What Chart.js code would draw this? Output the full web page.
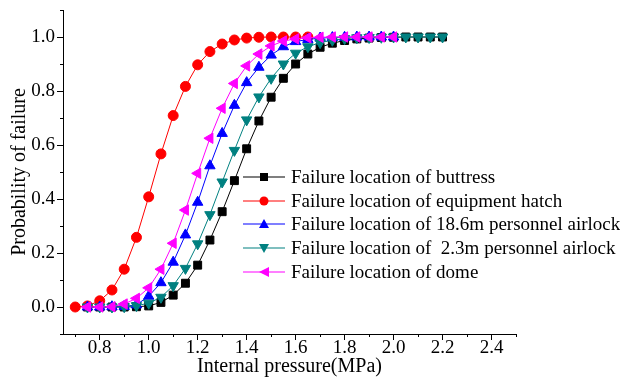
<!DOCTYPE html>
<html>
<head>
<meta charset="utf-8">
<script src="https://cdn.jsdelivr.net/npm/chart.js@4.4.1/dist/chart.umd.min.js"></script>
<style>
  body { margin: 0; background: #fff; }
  #wrap { position: relative; width: 620px; height: 381px; }
  #legend {
    position: absolute;
    left: 243px;
    top: 165px;
    font: 19px "Liberation Serif", serif;
    color: #000;
  }
  .row { display: flex; align-items: center; height: 23.75px; white-space: pre; }
  .row svg { margin-right: 6px; }
</style>
</head>
<body>
<div id="wrap">
  <canvas id="chart" width="620" height="381"></canvas>
  <div id="legend"></div>
</div>
<script>
let pressure = [0.70, 0.75, 0.80, 0.85, 0.90, 0.95, 1.00, 1.05, 1.10, 1.15, 1.20,
  1.25, 1.30, 1.35, 1.40, 1.45, 1.50, 1.55, 1.60, 1.65, 1.70, 1.75, 1.80, 1.85,
  1.90, 1.95, 2.00, 2.05, 2.10, 2.15, 2.20];

let buttress = [null, 0.000, 0.000, 0.000, 0.000, 0.001, 0.004, 0.017, 0.044, 0.088, 0.155,
  0.248, 0.353, 0.468, 0.586, 0.689, 0.777, 0.847, 0.900, 0.937, 0.962, 0.977, 0.987, 0.993,
  0.996, 0.998, 0.999, 1.000, 1.000, 1.000, 1.000];

let hatch = [0.000, 0.004, 0.023, 0.063, 0.140, 0.258, 0.408, 0.567, 0.709, 0.817, 0.897,
  0.946, 0.974, 0.989, 0.996, 0.999, 1.000, 1.000, 1.000, 1.000, null, null, null, null,
  null, null, null, null, null, null, null];

let airlock186 = [null, 0.000, 0.000, 0.001, 0.002, 0.008, 0.040, 0.090, 0.166, 0.267, 0.388,
  0.523, 0.643, 0.747, 0.831, 0.888, 0.933, 0.964, 0.983, 0.991, 0.996, 0.998, 0.999, 1.000,
  1.000, 1.000, 1.000, null, null, null, null];

let airlock23 = [null, 0.000, 0.000, 0.000, 0.001, 0.005, 0.014, 0.036, 0.079, 0.143, 0.234,
  0.342, 0.463, 0.580, 0.693, 0.778, 0.847, 0.900, 0.940, 0.964, 0.979, 0.988, 0.994, 0.997,
  0.998, 0.999, 1.000, 1.000, 1.000, 1.000, 1.000];

let dome = [null, 0.000, 0.000, 0.001, 0.011, 0.032, 0.071, 0.140, 0.236, 0.359, 0.495,
  0.625, 0.736, 0.828, 0.893, 0.937, 0.967, 0.985, 0.993, 0.997, 0.999, 1.000, 1.000, 1.000,
  1.000, 1.000, 1.000, null, null, null, null];

let seriesNames = [
  "Failure location of buttress",
  "Failure location of equipment hatch",
  "Failure location of 18.6m personnel airlock",
  "Failure location of  2.3m personnel airlock",
  "Failure location of dome",
];

let xMajor = [0.8, 1.0, 1.2, 1.4, 1.6, 1.8, 2.0, 2.2, 2.4];
let xMinor = [0.7, 0.9, 1.1, 1.3, 1.5, 1.7, 1.9, 2.1, 2.3, 2.5];
let yMajor = [0.0, 0.2, 0.4, 0.6, 0.8, 1.0];
let yMinor = [-0.1, 0.1, 0.3, 0.5, 0.7, 0.9, 1.1];

let fontName = "'Liberation Serif', 'Times New Roman', serif";

// colour, marker, rotation, radius ; order so that dome is drawn last (on top)
let looks = [
  { color: "#000000", style: "rect", rot: 0, r: 5.6, order: 4 },
  { color: "#ff0000", style: "circle", rot: 0, r: 5, order: 3 },
  { color: "#0000ff", style: "triangle", rot: 0, r: 6, order: 2 },
  { color: "#008080", style: "triangle", rot: 180, r: 6, order: 1 },
  { color: "#ff00ff", style: "triangle", rot: -90, r: 6, order: 0 },
];

function toPoints(values) {
  return pressure
    .map((x, i) => ({ x: x, y: values[i] }))
    .filter((p) => p.y !== null);
}

let allSeries = [buttress, hatch, airlock186, airlock23, dome];

let datasets = allSeries.map((values, i) => ({
  label: seriesNames[i],
  data: toPoints(values),
  borderColor: looks[i].color,
  backgroundColor: looks[i].color,
  borderWidth: 1,
  pointStyle: looks[i].style,
  pointRotation: looks[i].rot,
  pointRadius: looks[i].r,
  pointBorderWidth: 1,
  pointBorderColor: looks[i].color,
  pointBackgroundColor: looks[i].color,
  tension: 0,
  order: looks[i].order,
}));

// short minor tick marks drawn through the scales
let minorTicks = {
  id: "minorTicks",
  afterDraw(chart) {
    let ctx = chart.ctx;
    let xs = chart.scales.x;
    let ys = chart.scales.y;
    ctx.save();
    ctx.strokeStyle = "#000";
    ctx.lineWidth = 1;
    ctx.beginPath();
    xMinor.forEach((v) => {
      let px = Math.round(xs.getPixelForValue(v)) + 0.5;
      ctx.moveTo(px, xs.top);
      ctx.lineTo(px, xs.top + 3);
    });
    yMinor.forEach((v) => {
      let py = Math.round(ys.getPixelForValue(v)) + 0.5;
      ctx.moveTo(ys.right, py);
      ctx.lineTo(ys.right - 3, py);
    });
    ctx.stroke();
    ctx.restore();
  },
};

const chart = document.getElementById("chart");
new Chart(chart, {
  type: "line",
  data: { datasets: datasets },
  options: {
    responsive: false,
    animation: false,
    devicePixelRatio: 1,
    layout: { padding: { top: 10, right: 104, left: 0, bottom: 0 } },
    plugins: {
      legend: { display: false },
      tooltip: { enabled: false },
    },
    scales: {
      x: {
        type: "linear",
        min: 0.65,
        max: 2.5,
        afterBuildTicks: (s) => {
          s.ticks = xMajor.map((v) => ({ value: v }));
        },
        afterFit: (s) => {
          s.height = 47;
          s.paddingLeft = 0;
          s.paddingRight = 0;
        },
        grid: {
          drawOnChartArea: false,
          drawTicks: true,
          tickLength: 6,
          tickColor: "#000",
        },
        border: { display: true, color: "#000", width: 1 },
        ticks: {
          color: "#000",
          font: { family: fontName, size: 19, lineHeight: 1 },
          padding: -1,
          maxRotation: 0,
          autoSkip: false,
          callback: (v) => Number(v).toFixed(1),
        },
        title: {
          display: true,
          text: "Internal pressure(MPa)",
          color: "#000",
          font: { family: fontName, size: 20 },
          padding: { top: 0, bottom: 2 },
        },
      },
      y: {
        type: "linear",
        min: -0.1,
        max: 1.1,
        afterBuildTicks: (s) => {
          s.ticks = yMajor.map((v) => ({ value: v }));
        },
        afterFit: (s) => {
          s.width = 63;
          s.paddingTop = 0;
          s.paddingBottom = 0;
        },
        grid: {
          drawOnChartArea: false,
          drawTicks: true,
          tickLength: 6,
          tickColor: "#000",
        },
        border: { display: true, color: "#000", width: 1 },
        ticks: {
          color: "#000",
          font: { family: fontName, size: 19 },
          padding: 2,
          autoSkip: false,
          callback: (v) => Number(v).toFixed(1),
        },
        title: {
          display: true,
          text: "Probability of failure",
          color: "#000",
          font: { family: fontName, size: 20 },
          padding: { top: 8, bottom: 0 },
        },
      },
    },
  },
  plugins: [minorTicks],
});

// legend inside the plot, as html text
function markerSvg(look) {
  let c = look.color;
  let shape = "";
  if (look.style === "rect") {
    shape = `<rect x="17" y="2" width="8" height="8" fill="${c}"/>`;
  } else if (look.style === "circle") {
    shape = `<circle cx="21" cy="6" r="4.5" fill="${c}"/>`;
  } else if (look.rot === 0) {
    shape = `<polygon points="21,1 26,10 16,10" fill="${c}"/>`;
  } else if (look.rot === 180) {
    shape = `<polygon points="16,2 26,2 21,11" fill="${c}"/>`;
  } else {
    shape = `<polygon points="16,6 26,1 26,11" fill="${c}"/>`;
  }
  return `<svg width="42" height="12" viewBox="0 0 42 12">
    <line x1="0" y1="6" x2="42" y2="6" stroke="${c}" stroke-width="1.2"/>${shape}</svg>`;
}

let legend = document.getElementById("legend");
seriesNames.forEach((name, i) => {
  let row = document.createElement("div");
  row.className = "row";
  row.innerHTML = markerSvg(looks[i]) + `<span>${name}</span>`;
  legend.appendChild(row);
});
</script>
</body>
</html>
